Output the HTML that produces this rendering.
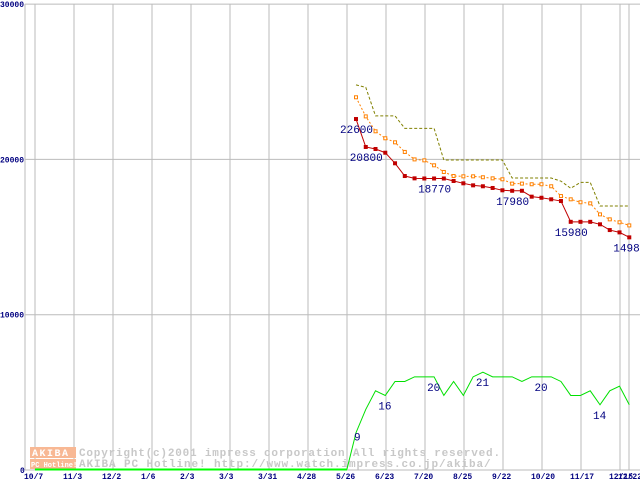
<!DOCTYPE html>
<html><head><meta charset="utf-8"><style>
body{margin:0;background:#fff;}
svg text{font-family:"Liberation Mono",monospace;}
</style></head><body>
<svg id="c" width="640" height="480" xmlns="http://www.w3.org/2000/svg">
<rect x="0" y="0" width="640" height="480" fill="#fff"/>
<g id="grid"></g>
<g id="wm">
 <rect x="30" y="447" width="46" height="11" fill="#f8b894"/>
 <rect x="30" y="459" width="46" height="10" fill="#f8b894"/>
 <text x="32" y="456" font-size="10" fill="#fff" font-weight="bold" letter-spacing="1.5">AKIBA</text>
 <text x="31" y="467" font-size="7" fill="#fff" font-weight="bold">PC Hotline!</text>
 <text x="79" y="456" font-size="11" fill="#c8c8c8" font-weight="bold" letter-spacing="0.8">Copyright(c)2001 impress corporation All rights reserved.</text>
 <text x="79" y="467" font-size="11" fill="#c8c8c8" font-weight="bold" letter-spacing="0.9">AKIBA PC Hotline!  http://www.watch.impress.co.jp/akiba/</text>
</g>
<g id="series"></g>
</svg>
<script>
const xLabels=["10/7","11/3","12/2","1/6","2/3","3/3","3/31","4/28","5/26","6/23","7/20","8/25","9/22","10/20","11/17","12/15","12/22"];
const yTicks=[0,10000,20000,30000];
const minPrice=[22600,20800,20670,20430,19750,18930,18780,18770,18770,18770,18610,18460,18330,18270,18160,18010,17980,17980,17600,17530,17430,17320,15980,15980,15980,15820,15450,15300,14980];
const avgPrice=[24000,22770,21810,21360,21100,20480,20000,19940,19620,19190,18930,18910,18910,18850,18780,18720,18440,18440,18400,18400,18270,17640,17430,17240,17170,16460,16140,15950,15750];
const maxPrice=[24800,24640,22800,22800,22800,22000,22000,22000,22000,19960,19960,19960,19960,19960,19960,19960,18800,18800,18800,18800,18800,18600,18140,18520,18520,17000,17000,17000,17000];
const shopCount=[8,13,17,16,19,19,20,20,20,16,19,16,20,21,20,20,20,19,20,20,20,19,16,16,17,14,17,18,14];
const minLabels=[[0,"22600"],[1,"20800"],[8,"18770"],[16,"17980"],[22,"15980"],[28,"14980"]];
const countLabels=[[0,"9"],[3,"16"],[8,"20"],[13,"21"],[19,"20"],[25,"14"]];
const NS="http://www.w3.org/2000/svg";
const gx=[35,74,113,152,191,230,269,308,347,386,425,464,503,542,581,620,629];
function yS(v){return 470-v*0.01553;}
function xS(i){return 356+i*9.76;}
function mk(tag,attrs,parent){const e=document.createElementNS(NS,tag);for(const k in attrs)e.setAttribute(k,attrs[k]);parent.appendChild(e);return e;}
const grid=document.getElementById('grid'),ser=document.getElementById('series'),svg=document.getElementById('c');
let l=mk('line',{x1:25,y1:4,x2:25,y2:470,stroke:'#bbb','stroke-width':1},grid);


yTicks.forEach(v=>{
 const ln=mk('line',{x1:25,y1:yS(v),x2:640,y2:yS(v),stroke:'#bbb'},grid);
 
 
 const t=mk('text',{x:v?0:20,y:yS(v)+3,'font-size':8,fill:'#000080','font-weight':'bold'},grid);
 t.textContent=String(v);
 
 
});
xLabels.forEach((s,i)=>{
 const ln=mk('line',{x1:gx[i],y1:4,x2:gx[i],y2:470,stroke:'#bbb'},grid);
 
 
 const t=mk('text',{x:gx[i]-11,y:479,'font-size':8,fill:'#000080','font-weight':'bold'},grid);
 t.textContent=s;
 
 
});
function pts(arr,f){return arr.map((v,i)=>xS(i)+','+f(v)).join(' ');}
let p=mk('polyline',{points:pts(maxPrice,yS),fill:'none',stroke:'#808000','stroke-dasharray':'3,2'},ser);


p=mk('polyline',{points:pts(avgPrice,yS),fill:'none',stroke:'#ff8000','stroke-dasharray':'2,2'},ser);


avgPrice.forEach((v,i)=>{const r=mk('rect',{x:xS(i)-1.5,y:yS(v)-1.5,width:3,height:3,fill:'#fff',stroke:'#ff8000'},ser);
 
 });
p=mk('polyline',{points:pts(minPrice,yS),fill:'none',stroke:'#c00000'},ser);


minPrice.forEach((v,i)=>{const r=mk('rect',{x:xS(i)-2,y:yS(v)-2,width:4,height:4,fill:'#c00000'},ser);
 
 });
function cY(c){return 470-c*300*0.01553;}
p=mk('polyline',{points:'35,469 347,469 '+pts(shopCount,cY),fill:'none',stroke:'#00e000','stroke-width':1},ser);


const gl=mk('line',{x1:35,y1:469.5,x2:347,y2:469.5,stroke:'#00ff00','stroke-width':2},ser);


minLabels.forEach(([i,s])=>{const t=mk('text',{x:xS(i)-16,y:yS(minPrice[i])+14,'font-size':11,fill:'#000080'},ser);
 t.textContent=s;
 
 });
countLabels.forEach(([i,s])=>{const t=mk('text',{x:xS(i)-(s.length>1?7:2),y:cY(shopCount[i])+(i==0?8:14),'font-size':11,fill:'#000080'},ser);
 t.textContent=s;
 
 });
</script>
</body></html>
